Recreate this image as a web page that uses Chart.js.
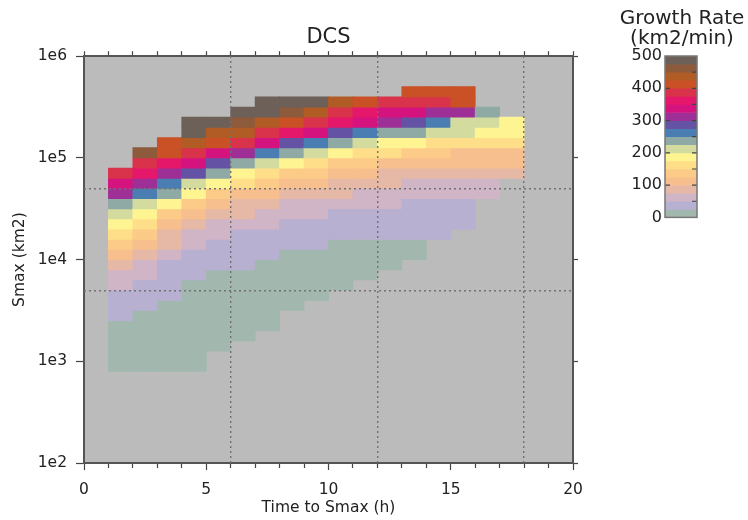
<!DOCTYPE html>
<html>
<head>
<meta charset="utf-8">
<script src="https://cdn.jsdelivr.net/npm/chart.js@4.4.1/dist/chart.umd.min.js"></script>
<style>
  body { margin: 0; background: #fff; }
  #wrap { position: relative; width: 748px; height: 520px; }
  #main { position: absolute; left: 0; top: 0; }
  #bar { position: absolute; left: 600px; top: 0; }
</style>
</head>
<body>
<div id="wrap">
  <canvas id="main" width="600" height="520"></canvas>
  <canvas id="bar" width="148" height="230"></canvas>
</div>
<script>
// colour levels, lowest first (25 km2/min each)
const levelColors = [
  "#a2b8af", "#b8b0d1", "#d0b5c7", "#e6b8a6", "#f7bf8d",
  "#fdcb88", "#fede89", "#fff492", "#d3db9f", "#8fa9a5",
  "#4a7eb2", "#6453a5", "#9e2f96", "#d5137f", "#e5176b",
  "#d9324b", "#c95125", "#b15b25", "#8e5a3c", "#6d6058",
];
const rateEdges = [0, 25, 50, 75, 100, 125, 150, 175, 200, 225, 250,
  275, 300, 325, 350, 375, 400, 425, 450, 475, 500];
const cbTickValues = [0, 100, 200, 300, 400, 500];
const cbMarksRight = [50, 100, 150, 200, 250, 300, 350, 400, 450];
const cbMarksLeft = [100, 200, 300, 400];

// time bins (h), 1 h wide
const timeStarts = [1, 2, 3, 4, 5, 6, 7, 8, 9, 10, 11, 12, 13, 14, 15, 16, 17];
const binWidth = 1;
// log10(Smax) of the lowest cell in each column; cells are 0.1 decade tall
const cellBottom = [2.9, 2.9, 2.9, 2.9, 3.1, 3.2, 3.3, 3.5, 3.6, 3.7, 3.8, 3.9, 4.0, 4.2, 4.3, 4.6, 4.8];
const rowStep = 0.1;
// colour level of every cell, bottom to top
const growthLevel = [
  [0,0,0,0,0,1,1,1,2,2,3,4,5,6,7,8,9,12,13,15],
  [0,0,0,0,0,0,1,1,1,2,2,3,4,5,6,7,8,10,12,14,15,18],
  [0,0,0,0,0,0,0,1,1,1,1,2,3,3,4,5,7,9,10,12,14,16,16],
  [0,0,0,0,0,0,0,0,0,1,1,1,2,2,3,4,5,7,8,11,13,15,17,19,19],
  [0,0,0,0,0,0,0,0,1,1,1,2,2,3,4,5,7,9,11,13,16,17,19],
  [0,0,0,0,0,0,0,1,1,1,1,2,3,3,4,6,7,9,12,15,17,18,19],
  [0,0,0,0,0,0,0,1,1,1,2,2,3,4,5,6,8,10,13,15,17,19,19],
  [0,0,0,0,0,0,1,1,1,2,2,3,4,5,7,9,11,14,16,18,19],
  [0,0,0,0,0,1,1,1,2,2,3,4,5,6,8,10,13,15,17,19],
  [0,0,0,0,0,1,1,1,2,3,3,4,5,7,9,11,14,15,17],
  [0,0,0,0,1,1,1,2,2,3,4,5,6,8,10,13,14,16],
  [0,0,0,1,1,1,2,2,3,3,4,6,7,9,12,13,15],
  [0,0,1,1,1,1,2,2,3,4,5,7,9,11,13,15,16],
  [1,1,1,1,2,2,3,4,5,6,8,10,12,15,16],
  [1,1,1,2,2,3,4,4,6,8,8,12,16,16],
  [2,2,3,4,4,6,7,8,9],
  [3,4,4,6,7,7],
];

const xTickLabels = [0, 5, 10, 15, 20];
const yTickValues = [1e2, 1e3, 1e4, 1e5, 1e6];
const yTickLabels = ["1e2", "1e3", "1e4", "1e5", "1e6"];
const gridX = [6, 12, 18];
const gridY = [5e3, 5e4];

Chart.defaults.font.family = "'DejaVu Sans', 'Liberation Sans', sans-serif";
Chart.defaults.color = "#222";

const cells = [];
const cellColors = [];
timeStarts.forEach((t, c) => {
  growthLevel[c].forEach((lvl, k) => {
    const lo = Math.round(cellBottom[c] * 10 + k) / 10;
    cells.push({ x: t + binWidth / 2, y: [10 ** lo, 10 ** (lo + rowStep)] });
    cellColors.push(levelColors[lvl]);
  });
});

const frame = { color: "#555", width: 2 };
const tickGrid = (len) => ({
  offset: false, drawOnChartArea: false, tickLength: len, tickColor: "#444", tickWidth: 1.2,
});
const dotted = { offset: false, drawTicks: false, color: "#727272", lineWidth: 1.4, z: 1 };

const plotBg = {
  id: "plotBg",
  beforeDraw(chart) {
    const { ctx, chartArea: a } = chart;
    ctx.save();
    ctx.fillStyle = "#bbbbbb";
    ctx.fillRect(a.left, a.top, a.right - a.left, a.bottom - a.top);
    ctx.restore();
  },
};

new Chart(document.getElementById("main"), {
  type: "bar",
  data: {
    datasets: [{
      data: cells,
      backgroundColor: cellColors,
      borderWidth: 0,
      barPercentage: 1,
      categoryPercentage: 1,
      grouped: false,
      inflateAmount: 0.4,
    }],
  },
  options: {
    responsive: false,
    animation: false,
    layout: { padding: 0 },
    plugins: {
      legend: { display: false },
      tooltip: { enabled: false },
      title: {
        display: true, text: "DCS", fullSize: false, color: "#222",
        font: { size: 21, weight: "normal" },
        padding: { top: 25, bottom: 1 },
      },
    },
    scales: {
      x: {
        type: "linear", position: "bottom", min: 0, max: 20, offset: false,
        grid: {
          ...tickGrid(7),
          // minor ticks drawn shorter than the labelled ones
          tickBorderDash: (ctx) => (ctx.tick && xTickLabels.includes(ctx.tick.value) ? [] : [4, 20]),
        },
        border: frame,
        ticks: {
          stepSize: 1, autoSkip: false, maxRotation: 0, padding: 11,
          font: { size: 15.5 }, color: "#222",
          callback: (v) => (xTickLabels.includes(v) ? String(v) : ""),
        },
        title: { display: true, text: "Time to Smax (h)", font: { size: 15.5 }, color: "#222", padding: { top: 0, bottom: 2.5 } },
        afterFit: (s) => { s.height = 57; },
      },
      x2: {
        type: "linear", position: "top", min: 0, max: 20, offset: false,
        grid: tickGrid(5), border: frame,
        ticks: { stepSize: 1, autoSkip: false, display: false },
        afterFit: (s) => { s.height = 5; },
      },
      xg: {
        type: "linear", position: "top", min: 0, max: 20, offset: false,
        afterBuildTicks: (s) => { s.ticks = gridX.map((value) => ({ value })); },
        ticks: { display: false }, grid: dotted,
        border: { display: false, dash: [2, 3] },
        afterFit: (s) => { s.height = 0; },
      },
      y: {
        type: "logarithmic", position: "left", min: 1e2, max: 1e6, beginAtZero: false,
        grid: tickGrid(8), border: frame,
        afterBuildTicks: (s) => { s.ticks = yTickValues.map((value) => ({ value })); },
        ticks: { padding: 9, font: { size: 15.5 }, color: "#222", callback: (v, i) => yTickLabels[i] },
        title: { display: true, text: "Smax (km2)", font: { size: 15.5 }, color: "#222", padding: { top: 10.5, bottom: 0 } },
        afterFit: (s) => { s.width = 84; },
      },
      y2: {
        type: "logarithmic", position: "right", min: 1e2, max: 1e6, beginAtZero: false,
        grid: tickGrid(5), border: frame,
        afterBuildTicks: (s) => { s.ticks = yTickValues.map((value) => ({ value })); },
        ticks: { display: false },
        afterFit: (s) => { s.width = 27; },
      },
      yg: {
        type: "logarithmic", position: "right", min: 1e2, max: 1e6, beginAtZero: false,
        afterBuildTicks: (s) => { s.ticks = gridY.map((value) => ({ value })); },
        ticks: { display: false }, grid: dotted,
        border: { display: false, dash: [2, 3] },
        afterFit: (s) => { s.width = 0; },
      },
    },
  },
  plugins: [plotBg],
});

// colour bar
const cbFrame = {
  id: "cbFrame",
  afterDatasetsDraw(chart) {
    const { ctx, chartArea: a, scales } = chart;
    const ys = scales.y;
    ctx.save();
    ctx.strokeStyle = "#444";
    ctx.lineWidth = 1.2;
    ctx.beginPath();
    cbMarksRight.forEach((v) => {
      const py = ys.getPixelForValue(v);
      ctx.moveTo(a.right - 5, py); ctx.lineTo(a.right, py);
    });
    cbMarksLeft.forEach((v) => {
      const py = ys.getPixelForValue(v);
      ctx.moveTo(a.left, py); ctx.lineTo(a.left + 5, py);
    });
    ctx.stroke();
    ctx.strokeStyle = "#777";
    ctx.lineWidth = 1.5;
    ctx.strokeRect(a.left, a.top, a.right - a.left, a.bottom - a.top);
    ctx.restore();
  },
};

new Chart(document.getElementById("bar"), {
  type: "bar",
  data: {
    labels: ["rate"],
    datasets: [{
      data: levelColors.map((_, i) => ({ x: "rate", y: [rateEdges[i], rateEdges[i + 1]] })),
      backgroundColor: levelColors,
      borderWidth: 0,
      barPercentage: 1,
      categoryPercentage: 1,
    }],
  },
  options: {
    responsive: false,
    animation: false,
    layout: { padding: { left: 16, right: 0, top: 0, bottom: 12 } },
    plugins: {
      legend: { display: false },
      tooltip: { enabled: false },
      title: {
        display: true, text: ["Growth Rate", "(km2/min)"], color: "#222",
        font: { size: 20, weight: "normal", lineHeight: 1 },
        padding: { top: 9, bottom: 7 },
      },
    },
    scales: {
      x: { display: false },
      y: {
        position: "left", min: 0, max: 500,
        afterBuildTicks: (s) => { s.ticks = cbTickValues.map((value) => ({ value })); },
        grid: { display: false, drawTicks: false }, border: { display: false },
        ticks: { padding: 3, font: { size: 16 }, color: "#222" },
        afterFit: (s) => { s.width = 49; },
      },
      yR: {
        position: "right", min: 0, max: 500,
        grid: { display: false, drawTicks: false }, border: { display: false }, ticks: { display: false },
        afterFit: (s) => { s.width = 51; },
      },
    },
  },
  plugins: [cbFrame],
});
</script>
</body>
</html>
